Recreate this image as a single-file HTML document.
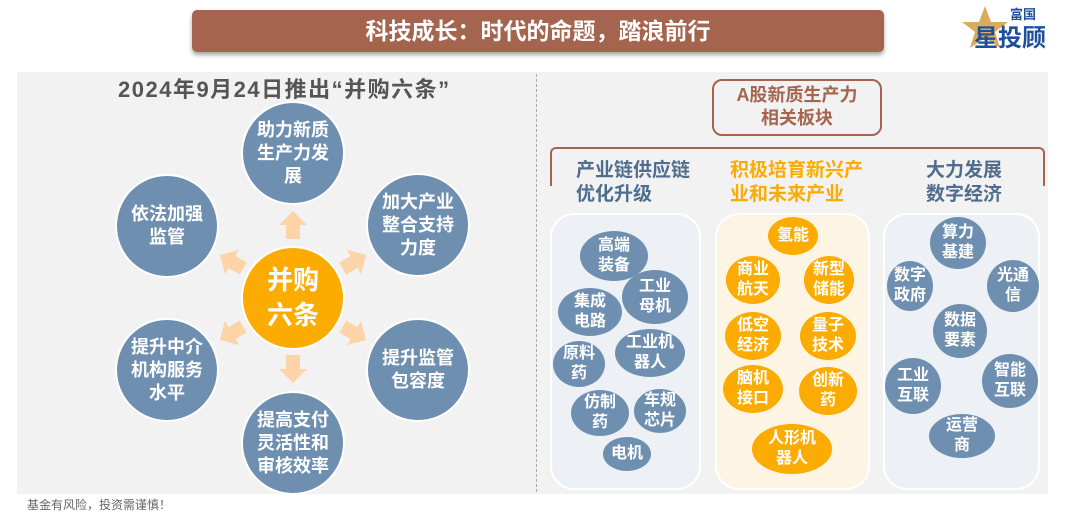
<!DOCTYPE html>
<html><head><meta charset="utf-8">
<style>
*{margin:0;padding:0;box-sizing:border-box}
body{width:1077px;height:512px;background:#fff;position:relative;overflow:hidden;font-family:"Liberation Sans","Noto Sans CJK SC",sans-serif;font-weight:bold}
.a{position:absolute}
.c{position:absolute;display:flex;align-items:center;justify-content:center;text-align:center;border-radius:50%;color:#fff;line-height:1.3}
.bl{background:#6f8fb1}
.or{background:#fcab00}
.big{border:2px solid #fff;font-size:18px;line-height:23px}
.s{font-size:16px;line-height:20px}
</style></head><body>
<div class="a" style="left:192px;top:10px;width:692px;height:42px;background:#a5644e;border-radius:5px;box-shadow:0 3px 4px rgba(0,0,0,.35);color:#fff;font-size:23px;text-align:center;line-height:42px">科技成长：时代的命题，踏浪前行</div>
<svg class="a" style="left:960px;top:2px" width="115" height="50">
<polygon points="25,4 31,20 48,20 35,30 40,46 25,36 10,46 15,30 2,20 19,20" fill="#d8ac5c"/>
<text x="50" y="17" font-size="13" fill="#1f4e9a" font-weight="bold" font-family="Noto Sans CJK SC">富国</text>
<text x="14" y="44" font-size="24" fill="#1f4e9a" font-weight="bold" font-family="Noto Sans CJK SC">星投顾</text>
</svg>
<div class="a" style="left:17px;top:72px;width:1031px;height:422px;background:#f2f2f2"></div>
<div class="a" style="left:536px;top:74px;height:418px;border-left:1.5px dashed #aaa"></div>
<div class="a" style="left:118px;top:72px;font-size:22px;letter-spacing:1.5px;color:#555">2024年9月24日推出“并购六条”</div>
<svg class="a" style="left:0;top:0" width="540" height="512">
<g fill="#fdd4a8">
<polygon points="293,211 307,225 300,225 300,239 286,239 286,225 279,225"/>
<polygon points="293,383 307,369 300,369 300,355 286,355 286,369 279,369"/>
<g transform="translate(232,262) rotate(-60)"><polygon points="0,-14 14,0 7,0 7,13 -7,13 -7,0 -14,0"/></g>
<g transform="translate(354,262) rotate(60)"><polygon points="0,-14 14,0 7,0 7,13 -7,13 -7,0 -14,0"/></g>
<g transform="translate(232,333) rotate(-120)"><polygon points="0,-14 14,0 7,0 7,13 -7,13 -7,0 -14,0"/></g>
<g transform="translate(354,333) rotate(120)"><polygon points="0,-14 14,0 7,0 7,13 -7,13 -7,0 -14,0"/></g>
</g></svg>
<div class="c bl big" style="left:241px;top:101px;width:104px;height:104px">助力新质<br>生产力发<br>展</div>
<div class="c bl big" style="left:115px;top:174px;width:104px;height:104px">依法加强<br>监管</div>
<div class="c bl big" style="left:366px;top:173px;width:104px;height:104px">加大产业<br>整合支持<br>力度</div>
<div class="c or big" style="left:241px;top:246px;width:104px;height:104px;font-size:26px;line-height:35px">并购<br>六条</div>
<div class="c bl big" style="left:115px;top:318px;width:104px;height:104px">提升中介<br>机构服务<br>水平</div>
<div class="c bl big" style="left:366px;top:318px;width:104px;height:104px">提升监管<br>包容度</div>
<div class="c bl big" style="left:241px;top:391px;width:104px;height:104px">提高支付<br>灵活性和<br>审核效率</div>
<div class="a" style="left:27px;top:496px;font-size:12px;font-weight:normal;color:#666">基金有风险，投资需谨慎！</div>

<div class="a" style="left:712px;top:79px;width:170px;height:57px;border:2px solid #a5644e;border-radius:10px;color:#a5644e;font-size:18px;line-height:23px;text-align:center;padding-top:3px">A股新质生产力<br>相关板块</div>
<div class="a" style="left:550px;top:147px;width:495px;height:39px;border:2.5px solid #a5644e;border-bottom:none;border-radius:6px 6px 0 0"></div>
<div class="a" style="left:576px;top:159px;font-size:19px;line-height:24px;color:#4f6d8e">产业链供应链<br>优化升级</div>
<div class="a" style="left:730px;top:159px;font-size:19px;line-height:24px;color:#fcab00">积极培育新兴产<br>业和未来产业</div>
<div class="a" style="left:926px;top:159px;font-size:19px;line-height:24px;color:#4f6d8e">大力发展<br>数字经济</div>

<div class="a" style="left:550px;top:213px;width:151px;height:277px;border:2px solid #fff;border-radius:24px;background:#edf0f5"></div>
<div class="a" style="left:715px;top:213px;width:155px;height:277px;border:2px solid #fff;border-radius:24px;background:#fdf4e3"></div>
<div class="a" style="left:883px;top:213px;width:157px;height:277px;border:2px solid #fff;border-radius:24px;background:#edf0f5"></div>

<div class="c bl s" style="left:580px;top:231px;width:68px;height:50px">高端<br>装备</div>
<div class="c bl s" style="left:622px;top:270px;width:66px;height:54px">工业<br>母机</div>
<div class="c bl s" style="left:558px;top:288px;width:64px;height:48px">集成<br>电路</div>
<div class="c bl s" style="left:615px;top:329px;width:70px;height:48px">工业机<br>器人</div>
<div class="c bl s" style="left:553px;top:341px;width:52px;height:46px">原料<br>药</div>
<div class="c bl s" style="left:571px;top:390px;width:58px;height:46px">仿制<br>药</div>
<div class="c bl s" style="left:634px;top:389px;width:52px;height:44px">车规<br>芯片</div>
<div class="c bl s" style="left:603px;top:437px;width:48px;height:34px">电机</div>

<div class="c or s" style="left:768px;top:217px;width:50px;height:38px">氢能</div>
<div class="c or s" style="left:726px;top:256px;width:54px;height:48px">商业<br>航天</div>
<div class="c or s" style="left:804px;top:256px;width:50px;height:48px">新型<br>储能</div>
<div class="c or s" style="left:725px;top:312px;width:56px;height:48px">低空<br>经济</div>
<div class="c or s" style="left:800px;top:312px;width:56px;height:48px">量子<br>技术</div>
<div class="c or s" style="left:723px;top:365px;width:60px;height:48px">脑机<br>接口</div>
<div class="c or s" style="left:799px;top:367px;width:58px;height:48px">创新<br>药</div>
<div class="c or s" style="left:752px;top:424px;width:80px;height:50px">人形机<br>器人</div>

<div class="c bl s" style="left:930px;top:217px;width:56px;height:52px">算力<br>基建</div>
<div class="c bl s" style="left:887px;top:261px;width:46px;height:50px">数字<br>政府</div>
<div class="c bl s" style="left:987px;top:260px;width:52px;height:52px">光通<br>信</div>
<div class="c bl s" style="left:933px;top:304px;width:54px;height:54px">数据<br>要素</div>
<div class="c bl s" style="left:885px;top:358px;width:56px;height:56px">工业<br>互联</div>
<div class="c bl s" style="left:982px;top:354px;width:56px;height:54px">智能<br>互联</div>
<div class="c bl s" style="left:929px;top:414px;width:66px;height:44px">运营<br>商</div>
</body></html>
